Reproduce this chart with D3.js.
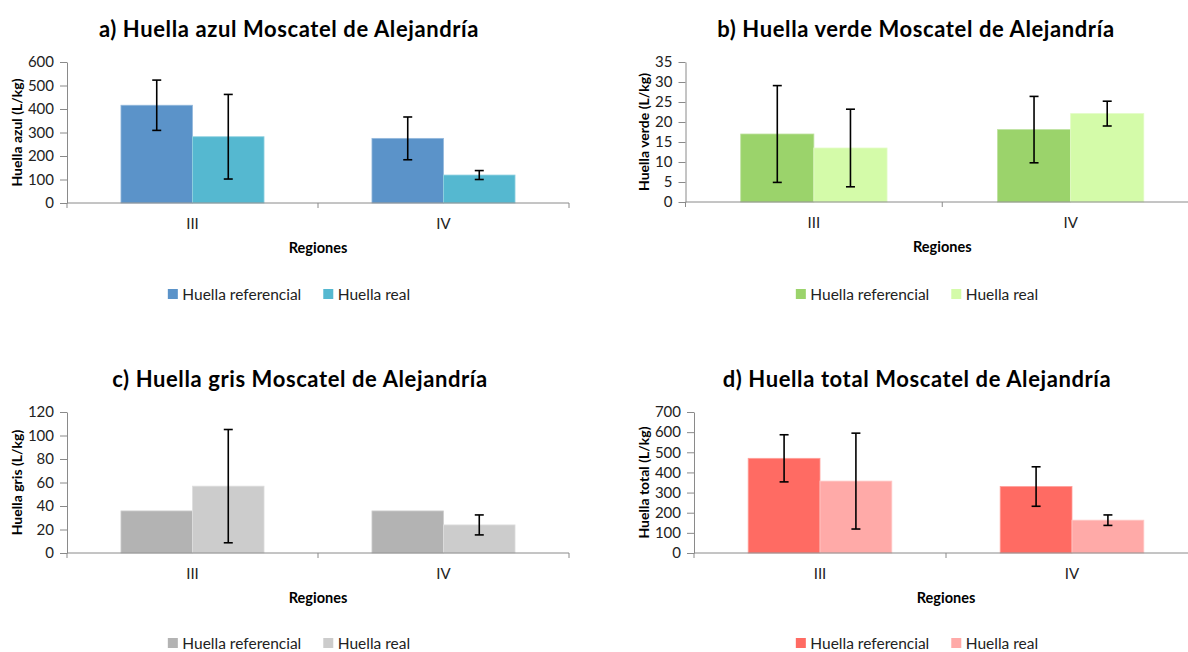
<!DOCTYPE html>
<html>
<head>
<meta charset="utf-8">
<script src="https://cdn.jsdelivr.net/npm/d3@7"></script>
<style>
  html, body { margin: 0; padding: 0; background: #fff; }
  svg { display: block; font-family: Lato, "Open Sans", sans-serif; }
</style>
</head>
<body>
<svg id="chart" width="1188" height="652"></svg>
<script>
// ---------- DATA ----------
const categories = ["III", "IV"];
const seriesNames = ["Huella referencial", "Huella real"];

const azulRef = [416, 275];
const azulRefErr = [107, 91];
const azulReal = [282, 119];
const azulRealErr = [180, 19];
const azulTicks = [0, 100, 200, 300, 400, 500, 600];

const verdeRef = [17.0, 18.1];
const verdeRefErr = [12.1, 8.3];
const verdeReal = [13.5, 22.1];
const verdeRealErr = [9.7, 3.1];
const verdeTicks = [0, 5, 10, 15, 20, 25, 30, 35];

const grisRef = [35.8, 35.8];
const grisRefErr = [null, null];
const grisReal = [56.9, 23.9];
const grisRealErr = [48.2, 8.5];
const grisTicks = [0, 20, 40, 60, 80, 100, 120];

const totalRef = [470, 330];
const totalRefErr = [117, 98];
const totalReal = [357, 163];
const totalRealErr = [238, 26];
const totalTicks = [0, 100, 200, 300, 400, 500, 600, 700];

const titles = [
  "a) Huella azul Moscatel de Alejandría",
  "b) Huella verde Moscatel de Alejandría",
  "c) Huella gris Moscatel de Alejandría",
  "d) Huella total Moscatel de Alejandría"
];
const yLabels = ["Huella azul (L/kg)", "Huella verde (L/kg)", "Huella gris (L/kg)", "Huella total (L/kg)"];
const xLabel = "Regiones";

// ---------- LAYOUT ----------
const panels = [
  { title: titles[0], yLabel: yLabels[0], ref: azulRef, refErr: azulRefErr, real: azulReal, realErr: azulRealErr, ticks: azulTicks,
    colors: ["#5B93C9", "#55B8D0"], x0: 67, x1: 569, y0: 203, yTop: 62, titleX: 289, titleY: 37, yLabX: 17, legendX: 289, legendY: 300 },
  { title: titles[1], yLabel: yLabels[1], ref: verdeRef, refErr: verdeRefErr, real: verdeReal, realErr: verdeRealErr, ticks: verdeTicks,
    colors: ["#9BD36B", "#D4FBA9"], x0: 685.5, x1: 1199, y0: 202, yTop: 62, titleX: 916, titleY: 37, yLabX: 644, legendX: 917, legendY: 300 },
  { title: titles[2], yLabel: yLabels[2], ref: grisRef, refErr: grisRefErr, real: grisReal, realErr: grisRealErr, ticks: grisTicks,
    colors: ["#B3B3B3", "#CCCCCC"], x0: 67, x1: 569, y0: 553, yTop: 412, titleX: 300, titleY: 387, yLabX: 17, legendX: 289, legendY: 649 },
  { title: titles[3], yLabel: yLabels[3], ref: totalRef, refErr: totalRefErr, real: totalReal, realErr: totalRealErr, ticks: totalTicks,
    colors: ["#FF6B63", "#FFAAA8"], x0: 694, x1: 1198, y0: 553, yTop: 412, titleX: 917, titleY: 387, yLabX: 644, legendX: 917, legendY: 649 }
];

const svg = d3.select("#chart");
const axisColor = "#8A8A8A";

function drawPanel(p) {
  const g = svg.append("g");
  const x = d3.scaleBand().domain(categories).range([p.x0, p.x1]).paddingInner(0).paddingOuter(0);
  const bw = x.bandwidth();
  const xs = d3.scaleBand().domain(seriesNames).range([bw * 0.215, bw * 0.785]).padding(0);
  const y = d3.scaleLinear().domain([0, p.ticks[p.ticks.length - 1]]).range([p.y0, p.yTop]);

  // Title
  g.append("text").attr("x", p.titleX).attr("y", p.titleY).attr("text-anchor", "middle")
    .attr("font-weight", "bold").attr("font-size", 22).attr("letter-spacing", 0.6)
    .attr("fill", "#000").text(p.title);

  // Bars
  const rows = categories.map((c, i) => ({
    cat: c,
    vals: [
      { s: seriesNames[0], v: p.ref[i], e: p.refErr[i], color: p.colors[0] },
      { s: seriesNames[1], v: p.real[i], e: p.realErr[i], color: p.colors[1] }
    ]
  }));
  const grp = g.selectAll("g.cat").data(rows).join("g").attr("class", "cat")
    .attr("transform", d => `translate(${x(d.cat)},0)`);
  grp.selectAll("rect").data(d => d.vals).join("rect")
    .attr("x", d => xs(d.s)).attr("width", xs.bandwidth())
    .attr("y", d => y(d.v)).attr("height", d => y(0) - y(d.v))
    .attr("fill", d => d.color)
    .attr("stroke", d => d3.interpolateRgb(d.color, "#ffffff")(0.35)).attr("stroke-width", 0.8);

  // Error bars
  const eb = grp.selectAll("g.err").data(d => d.vals.filter(v => v.e != null)).join("g").attr("class", "err");
  const cx = d => xs(d.s) + xs.bandwidth() / 2;
  eb.append("line").attr("x1", cx).attr("x2", cx).attr("y1", d => y(d.v + d.e)).attr("y2", d => y(d.v - d.e))
    .attr("stroke", "#000").attr("stroke-width", 1.6);
  eb.append("line").attr("x1", d => cx(d) - 4.5).attr("x2", d => cx(d) + 4.5).attr("y1", d => y(d.v + d.e)).attr("y2", d => y(d.v + d.e))
    .attr("stroke", "#000").attr("stroke-width", 1.6);
  eb.append("line").attr("x1", d => cx(d) - 4.5).attr("x2", d => cx(d) + 4.5).attr("y1", d => y(d.v - d.e)).attr("y2", d => y(d.v - d.e))
    .attr("stroke", "#000").attr("stroke-width", 1.6);

  // Y axis
  const yAxis = g.append("g").attr("transform", `translate(${p.x0},0)`)
    .call(d3.axisLeft(y).tickValues(p.ticks).tickSize(7).tickSizeOuter(0).tickPadding(6));
  yAxis.select(".domain").attr("stroke", axisColor);
  yAxis.selectAll(".tick line").attr("stroke", axisColor);
  yAxis.selectAll(".tick text").attr("font-size", 15).attr("fill", "#222").attr("font-family", "Lato");

  // X axis: line, boundary ticks, category labels
  const xAxis = g.append("g").attr("transform", `translate(0,${p.y0})`)
    .call(d3.axisBottom(x).tickSize(0).tickPadding(15.5));
  xAxis.select(".domain").remove();
  xAxis.selectAll(".tick text").attr("font-size", 15).attr("fill", "#222").attr("font-family", "Lato");
  g.append("line").attr("x1", p.x0).attr("x2", p.x1).attr("y1", p.y0).attr("y2", p.y0).attr("stroke", axisColor);
  const bounds = categories.map(c => x(c)).concat([x(categories[categories.length - 1]) + bw]);
  g.selectAll("line.bt").data(bounds).join("line").attr("class", "bt")
    .attr("x1", d => d).attr("x2", d => d).attr("y1", p.y0).attr("y2", p.y0 + 5).attr("stroke", axisColor);

  // Axis titles
  g.append("text").attr("x", (p.x0 + p.x1) / 2).attr("y", p.y0 + 50).attr("text-anchor", "middle")
    .attr("font-weight", "bold").attr("font-size", 14.5).attr("fill", "#000").text(xLabel);
  g.append("text").attr("transform", `translate(${p.yLabX},${(p.y0 + p.yTop) / 2}) rotate(-90)`)
    .attr("text-anchor", "middle").attr("dy", "0.35em")
    .attr("font-weight", "bold").attr("font-size", 14).attr("fill", "#000").text(p.yLabel);

  // Legend
  const lg = g.append("g");
  const items = seriesNames.map((s, i) => ({ s, color: p.colors[i] }));
  const its = lg.selectAll("g").data(items).join("g");
  its.append("rect").attr("width", 10).attr("height", 10).attr("fill", d => d.color);
  its.append("text").attr("x", 14.5).attr("y", 10.5).attr("font-size", 15.5).attr("fill", "#222").text(d => d.s);
  let cur = 0;
  const offs = [];
  its.each(function(d) {
    const tw = d3.select(this).select("text").node().getComputedTextLength();
    offs.push(cur);
    cur += 14.5 + tw + 22;
  });
  const total = cur - 22;
  const startX = p.legendX - total / 2;
  its.attr("transform", (d, i) => `translate(${startX + offs[i]},${p.legendY - 11})`);
}

panels.forEach(drawPanel);
</script>
</body>
</html>
